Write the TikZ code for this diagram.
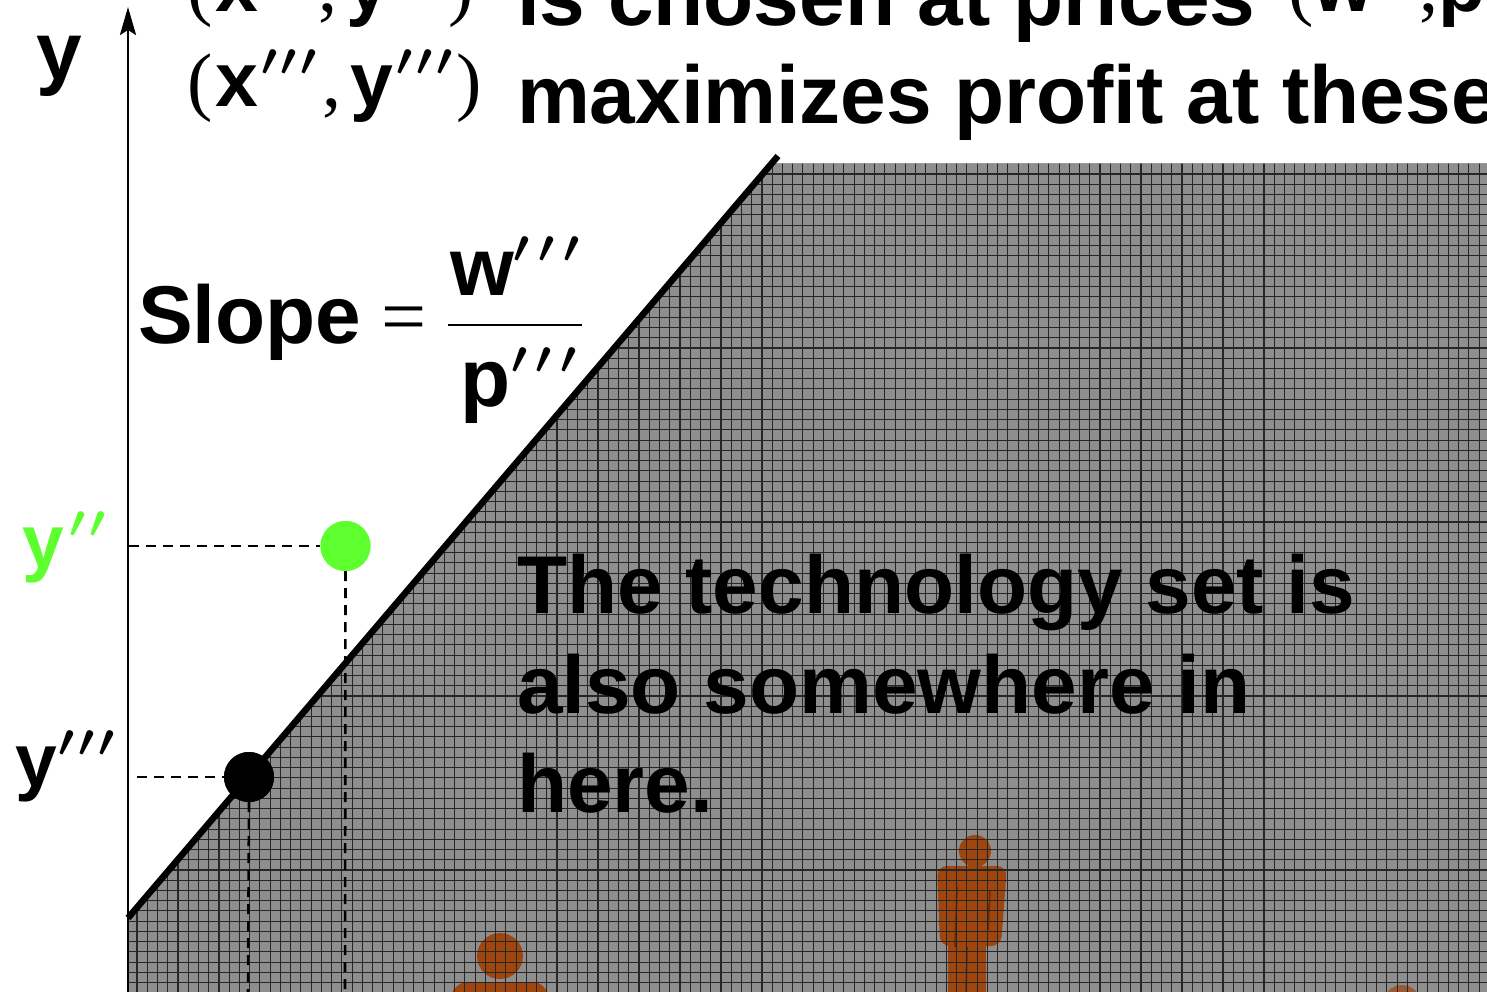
\RequirePackage{fix-cm}
\documentclass[tikz,border=0pt]{standalone}
\usepackage{fontspec}
\setmainfont{Liberation Sans}
\newfontfamily\timesf{Liberation Serif}
\usetikzlibrary{arrows.meta}

\definecolor{pointgreen}{RGB}{94,255,46}
\definecolor{setgray}{RGB}{142,142,142}
\definecolor{figbrown}{RGB}{158,70,14}
\definecolor{figdark}{RGB}{105,42,8}

% slanted wedge prime, raised to sit beside a letter
\newcommand{\prm}{\raisebox{0.40em}{\scalebox{4.6}{\fontsize{10}{10}\selectfont\boldmath$\prime$}}}
\newcommand{\sz}[1]{\fontsize{#1}{#1}\selectfont}
\newcommand{\tpar}[1]{{\timesf\sz{76}\mdseries#1}}

\begin{document}
\begin{tikzpicture}[x=1pt,y=-1pt,
  txt/.style={font=\sz{82}\bfseries, inner sep=0pt, outer sep=0pt, anchor=base west},
  lbl/.style={font=\sz{75}\bfseries, inner sep=0pt, outer sep=0pt, anchor=base west},
  frm/.style={font=\sz{77}\bfseries, inner sep=0pt, outer sep=0pt, anchor=base west},
  axisline/.style={line width=2.4pt, -{Stealth[length=28pt,width=16pt,inset=5pt]}},
  frontier/.style={line width=6.5pt},
  guide/.style={line width=2.6pt, dash pattern=on 10pt off 7pt},
  gridline/.style={line width=1.1pt, black!85},
  dot/.style={circle, inner sep=0pt, minimum size=50pt},
  person/.style={fill=figbrown},
  seam/.style={draw=figdark, line width=1.6pt}]

\useasboundingbox (0,0) rectangle (1487,991);
\clip (0,0) rectangle (1487,991);

% ---- the technology set: shaded region under the frontier ----
\begin{scope}
  \clip (128,918) -- (771.6,163.5) -- (1495,163.5) -- (1495,1000) -- (128,1000) -- cycle;
  \fill[setgray] (100,150) rectangle (1495,1000);
  % figures standing inside the set
  \fill[person] (975,851) circle (16pt);
  \fill[person] (968,860) rectangle (982,872);
  \fill[person, rounded corners=10pt] (937,866) -- (1007,866) -- (1001,946) -- (940,946) -- cycle;
  \fill[person] (948,935) rectangle (986,1000);
  \draw[seam] (957,887) -- (955,947);
  \draw[seam] (990,890) -- (988,930);
  \draw[seam] (967,947) -- (966,995);
  \fill[person] (500,956) circle (23pt);
  \fill[person, rounded corners=12pt] (451,1000) -- (455,982) -- (545,982) -- (549,1000) -- cycle;
  \fill[person, opacity=0.7] (1402,1004) circle (19pt);
  % grid texture
  \foreach \i in {12,...,145} \draw[gridline] ({3.81+10.245*\i},150) -- ++(0,860);
  \foreach \j in {16,...,97} \draw[gridline] (120,{10.235*\j}) -- (1495,{10.235*\j});
\end{scope}

% ---- axis ----
\coordinate (ybot) at (128,995);
\coordinate (ytip) at (128,7);
\draw[axisline] (ybot) -- (ytip);
\node[font=\sz{82}\bfseries, inner sep=0pt, anchor=base west] (ylab) at (36,79) {y};

% ---- frontier (isoprofit line) ----
\coordinate (fa) at (128,918);
\coordinate (fb) at (778,156);
\draw[frontier] (fa) -- (fb);

% ---- chosen points and their guides ----
\node[dot, fill=pointgreen] (alt) at (345.5,546) {};
\node[dot, fill=black] (opt) at (249,777) {};
\coordinate (altax) at (129,546);
\coordinate (altbot) at (345,995);
\coordinate (optax) at (137,777);
\coordinate (optbot) at (248,995);
\draw[guide] (altax) -- (alt.west);
\draw[guide] (alt.south) -- (altbot);
\draw[guide] (optax) -- (opt.west);
\draw[guide] (opt.south) -- (optbot);
\node[dot, fill=pointgreen] at (alt) {};
\node[dot, fill=black] at (opt) {};

\node[lbl, text=pointgreen] (ylab2) at (22,567) {y\kern6pt\prm\kern4pt\prm};
\node[lbl] (ylab3) at (15,786) {y\kern2pt\prm\kern4pt\prm\kern4pt\prm};

% ---- slope of the frontier ----
\node[txt] (slope) at (138,343) {Slope};
\node[font=\sz{80}\timesf, inner sep=0pt, anchor=base west] (eq) at (381,343) {=};
\node[txt] (num) at (450,295) {w\kern0pt\prm\kern9pt\prm\kern9pt\prm};
\node[txt] (den) at (460,406) {p\kern1pt\prm\kern9pt\prm\kern9pt\prm};
\coordinate (barl) at (448,325);
\coordinate (barr) at (582,325);
\draw[line width=1.5pt] (barl) -- (barr);

% ---- heading ----
\node[frm] (pt1) at (187,11)
  {\tpar{(}\kern3pt x\kern3pt\prm\kern4pt\prm\kern22pt\tpar{,}\kern9pt y\kern3pt\prm\kern4pt\prm\kern20pt\tpar{)}};
\node[txt] (head1) at (517,25) {is chosen at prices};
\node[frm] (pr1) at (1288,11)
  {\tpar{(}w\kern3pt\prm\kern4pt\prm\kern8pt\tpar{,}p\kern3pt\prm\kern4pt\prm\tpar{)}};
\node[frm] (pt2) at (187,106)
  {\tpar{(}\kern3pt x\kern3pt\prm\kern4pt\prm\kern4pt\prm\kern6pt\tpar{,}\kern9pt y\kern3pt\prm\kern4pt\prm\kern4pt\prm\kern4pt\tpar{)}};
\node[txt] (head2) at (517,123) {maximizes profit at these prices.};

% ---- note inside the set ----
\node[txt] (tech1) at (517,613) {The technology set is};
\node[txt] (tech2) at (517,713) {also somewhere in};
\node[txt] (tech3) at (517,812) {here.};
\end{tikzpicture}
\end{document}
